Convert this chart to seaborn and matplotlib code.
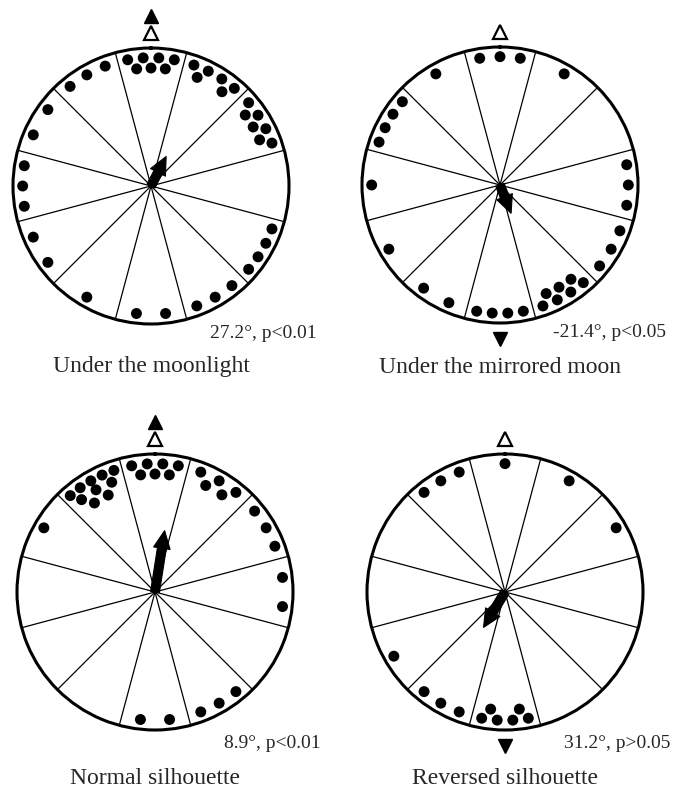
import numpy as np
import pandas as pd
import matplotlib
matplotlib.use("Agg")
import matplotlib.pyplot as plt
import seaborn as sns

# Orientation data: number of animals per 30 degree sector (clockwise from top)
sector_centres = np.arange(0, 360, 30)
moonlight_counts = [7, 6, 7, 0, 4, 3, 2, 1, 2, 3, 2, 3]
mirrored_counts = [3, 1, 0, 3, 3, 7, 4, 2, 1, 1, 4, 1]
normal_counts = [7, 5, 3, 2, 0, 3, 2, 0, 0, 0, 1, 10]
reversed_counts = [1, 1, 1, 0, 0, 0, 6, 3, 1, 0, 0, 3]

titles = ["Under the moonlight", "Under the mirrored moon",
          "Normal silhouette", "Reversed silhouette"]
stat_labels = ["27.2°, p<0.01", "-21.4°, p<0.05", "8.9°, p<0.01", "31.2°, p>0.05"]
mean_angles = [27.2, -21.4, 8.9, 31.2]      # relative to the cue direction
cue_direction = [0, 180, 0, 180]            # filled triangle
vector_lengths = [0.24, 0.22, 0.45, 0.30]

all_counts = [moonlight_counts, mirrored_counts, normal_counts, reversed_counts]

sns.set_style("white")
plt.rcParams["font.family"] = ["Liberation Serif", "DejaVu Serif"]


def row_sizes(n):
    if n <= 4:
        return [n]
    if n <= 7:
        outer = 3 if n == 5 else 4
        return [outer, n - outer]
    return [5, 3, n - 8]


def sector_dots(centre, n):
    # stack dots along the rim, outer row first
    if n == 0:
        return [], []
    rows = row_sizes(n)
    step = 30 / (rows[0] + 0.3)
    prev = centre + (np.arange(rows[0]) - (rows[0] - 1) / 2) * step
    th, rr = list(prev), [0.93] * rows[0]
    for k, m in enumerate(rows[1:], 1):
        mids = (prev[:-1] + prev[1:]) / 2
        cur = np.linspace(mids[0], mids[-1], m) if m > 1 else np.array([mids.mean()])
        th += list(cur)
        rr += [0.93 - 0.075 * k] * m
        prev = cur
    return th, rr


W, H = 675, 792
size = 276
corners = [(13, 48), (362, 47), (17, 454), (367, 454)]
stat_y = [-0.035, -0.035, -0.05, -0.05]
title_y = [-0.155, -0.16, -0.175, -0.175]

fig = plt.figure(figsize=(6.75, 7.92), dpi=100)

for i, counts in enumerate(all_counts):
    left, top = corners[i]
    ax = fig.add_axes([left / W, 1 - (top + size) / H, size / W, size / H],
                      projection="polar")
    ax.set_theta_zero_location("N")
    ax.set_theta_direction(-1)
    ax.set_ylim(0, 1)
    ax.set_yticks([])
    ax.set_xticks(np.deg2rad(np.arange(15, 360, 30)))
    ax.set_xticklabels([])
    ax.tick_params(axis="x", length=0)
    ax.grid(True, axis="x", color="black", lw=0.9)
    ax.set_axisbelow(True)
    ax.spines["polar"].set_linewidth(2.2)
    ax.spines["polar"].set_color("black")

    theta, radius = [], []
    for c, n in zip(sector_centres, counts):
        t, r = sector_dots(c, n)
        theta += t
        radius += r
    df = pd.DataFrame({"theta": np.deg2rad(theta), "r": radius})
    sns.scatterplot(data=df, x="theta", y="r", ax=ax, color="black", s=62,
                    edgecolor="none", legend=False, zorder=3)
    ax.set_xlabel("")
    ax.set_ylabel("")

    # mean vector
    ang = np.deg2rad(cue_direction[i] + mean_angles[i])
    ax.annotate("", xy=(ang, vector_lengths[i]), xytext=(0, 0),
                arrowprops=dict(arrowstyle="simple,head_length=0.8,head_width=0.75,tail_width=0.4",
                                fc="black", ec="black", lw=0.8, shrinkA=0, shrinkB=0,
                                mutation_scale=16), zorder=4)

    # open triangle = home direction, filled triangle = cue
    ax.plot(0, 1.11, marker="^", ms=10, mfc="white", mec="black", mew=1.6,
            clip_on=False)
    if cue_direction[i] == 0:
        ax.plot(0, 1.235, marker="^", ms=10, color="black", clip_on=False)
    else:
        ax.plot(np.pi, 1.115, marker="v", ms=10, color="black", clip_on=False)

    ax.text(1.10, stat_y[i], stat_labels[i], transform=ax.transAxes,
            ha="right", va="center", fontsize=14)
    ax.text(0.5, title_y[i], titles[i], transform=ax.transAxes,
            ha="center", va="center", fontsize=17)

fig.savefig("out.png", dpi=100)
